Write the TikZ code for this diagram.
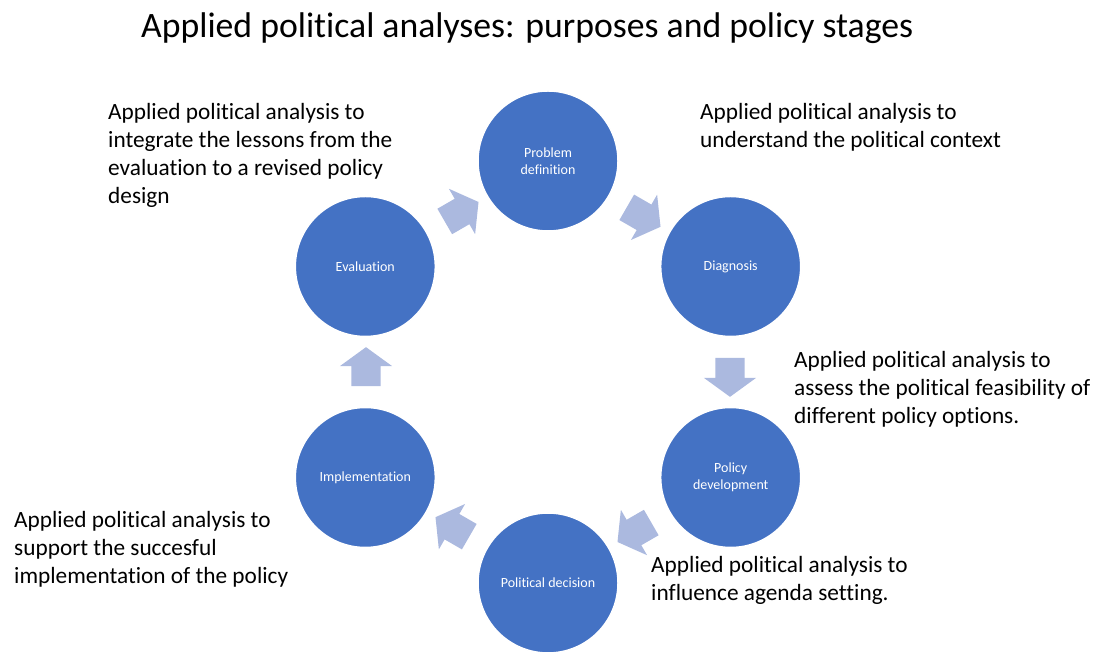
\documentclass[tikz,border=0pt]{standalone}
\usepackage{fontspec}
\setmainfont{Carlito}[Ligatures=NoCommon]
\usetikzlibrary{shapes.arrows}

\definecolor{stageblue}{RGB}{68,114,196}
\definecolor{arrowblue}{RGB}{171,185,223}

\tikzset{
  stage/.style={circle, fill=stageblue, draw=white, line width=1.5pt, minimum size=140pt,
    inner sep=0pt, text=white, align=center, font=\fontsize{14}{16.5}\selectfont},
  blockarrow/.style={single arrow, fill=arrowblue, minimum height=39pt, text height=14.5pt,
    text depth=14.5pt, inner sep=0pt, single arrow head extend=11.5pt,
    single arrow tip angle=108, single arrow head indent=0pt},
  purpose/.style={anchor=base west, align=left, inner sep=0pt,
    font=\fontsize{23.3}{27.7}\selectfont}
}

\begin{document}
\begin{tikzpicture}[x=1pt, y=1pt]
        \useasboundingbox (0,0) rectangle (1099,655);

        \node[anchor=base west, inner sep=0pt, font=\fontsize{35.7}{42}\selectfont] (title) at (141,617)
            {Applied political analyses: purposes and policy stages};

        % policy cycle
        \node[stage] (problem) at (548,494) {Problem\\definition};
        \node[stage] (diagnosis) at (730.7,388.5) {Diagnosis};
        \node[stage] (development) at (730.7,177.5) {Policy\\development};
        \node[stage] (decision) at (548,72) {Political decision};
        \node[stage] (implementation) at (365.3,177.5) {Implementation};
        \node[stage] (evaluation) at (365.3,388.5) {Evaluation};

        \node[blockarrow, rotate=-30] (toDiagnosis) at (639,440.6) {};
        \node[blockarrow, rotate=-90] (toDevelopment) at (730,283) {};
        \node[blockarrow, rotate=-150] (toDecision) at (639,125.4) {};
        \node[blockarrow, rotate=150] (toImplementation) at (457,125.4) {};
        \node[blockarrow, rotate=90] (toEvaluation) at (366,283) {};
        \node[blockarrow, rotate=30] (toProblem) at (457,440.6) {};

        % purposes (base = last line)
        \node[purpose] (integrate) at (108,451.9) {Applied political analysis to\\integrate the lessons from the\\evaluation to a revised policy\\design};
        \node[purpose] (understand) at (700,507.3) {Applied political analysis to\\understand the political context};
        \node[purpose] (assess) at (794,231.6) {Applied political analysis to\\assess the political feasibility of\\different policy options.};
        \node[purpose] (influence) at (651,54.3) {Applied political analysis to\\influence agenda setting.};
        \node[purpose] (support) at (14,71.6) {Applied political analysis to\\support the succesful\\implementation of the policy};
\end{tikzpicture}
\end{document}
